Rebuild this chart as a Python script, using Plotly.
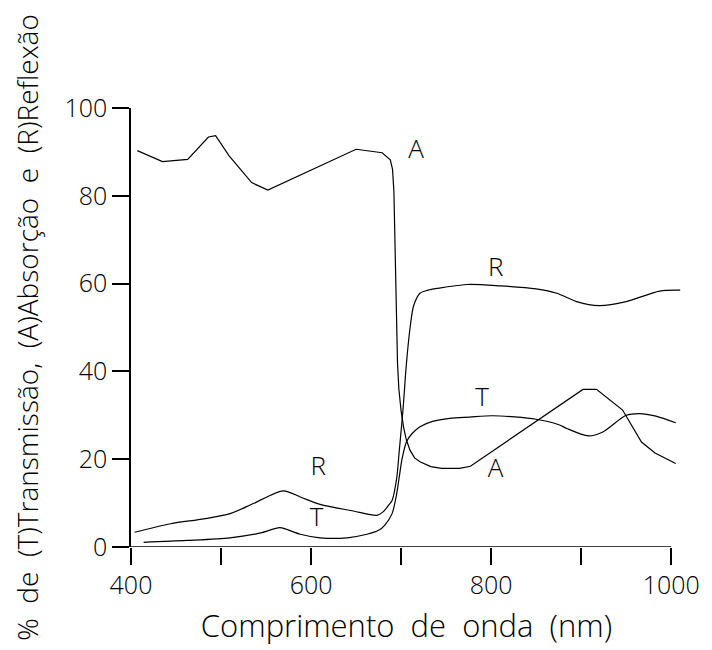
import plotly.graph_objects as go

# Absorption (A)
wl_A = [407, 435, 463, 486, 494, 509, 534, 552, 650, 666, 679, 688, 690.5, 692, 694, 696,
        697.5, 700, 703, 706, 710, 715, 721, 733, 745, 765, 777, 902, 917, 946, 967, 982, 1005]
A = [90.3, 87.8, 88.3, 93.4, 93.7, 89.1, 83.0, 81.3, 90.6, 90.1, 89.8, 88.2, 86.0, 81.0, 62.0, 42.0,
     36.0, 31.0, 27.0, 24.3, 22.0, 20.3, 19.4, 18.3, 17.9, 17.9, 18.4, 35.9, 35.9, 31.2, 23.9, 21.4, 19.0]

# Reflection (R)
wl_R = [404, 444, 481, 510, 536, 569, 588, 610, 647, 673, 680, 686, 690, 695, 698, 702, 706, 710,
        714, 721, 730, 740, 773, 810, 850, 873, 895, 920, 950, 987, 1010]
R = [3.35, 5.3, 6.4, 7.6, 9.9, 12.8, 11.4, 9.7, 8.2, 7.2, 8.0, 9.5, 10.6, 15.5, 22.0, 31.0, 42.0, 50.0,
     55.0, 57.8, 58.5, 58.9, 59.8, 59.5, 58.8, 57.8, 55.9, 55.0, 55.9, 58.3, 58.5]

# Transmission (T)
wl_T = [414, 462, 510, 544, 565, 573, 588, 610, 640, 662, 675, 682, 690, 695, 698, 701, 706, 712,
        721, 735, 754, 776, 802, 850, 876, 884, 908, 924, 950, 965, 983, 1005]
T = [1.07, 1.5, 2.1, 3.2, 4.4, 4.0, 2.9, 2.1, 2.1, 2.9, 3.8, 5.0, 7.6, 12.0, 16.0, 20.0, 24.0, 25.8,
     27.4, 28.6, 29.3, 29.6, 29.9, 29.1, 27.8, 27.0, 25.3, 26.2, 30.0, 30.4, 29.8, 28.3]

# Curve labels
label_text = ["A", "R", "T", "A", "R", "T"]
label_x = [716.5, 805, 790, 805, 608, 606]
label_y = [90.0, 63.1, 33.5, 17.5, 17.9, 6.3]

x_tickvals = [400, 500, 600, 700, 800, 900, 1000]
x_ticktext = ["400", "", "600", "", "800", "", "1000"]
y_tickvals = [0, 20, 40, 60, 80, 100]

FONT = "Open Sans"
INK = "black"

fig = go.Figure()
fig.add_trace(go.Scatter(x=wl_A, y=A, mode="lines", line=dict(color=INK, width=1.2, shape="linear"),
                         showlegend=False, hoverinfo="skip"))
fig.add_trace(go.Scatter(x=wl_R, y=R, mode="lines", line=dict(color=INK, width=1.2, shape="spline", smoothing=0.8),
                         showlegend=False, hoverinfo="skip"))
fig.add_trace(go.Scatter(x=wl_T, y=T, mode="lines", line=dict(color=INK, width=1.2, shape="spline", smoothing=0.8),
                         showlegend=False, hoverinfo="skip"))
fig.add_trace(go.Scatter(x=label_x, y=label_y, mode="text", text=label_text,
                         textfont=dict(family=FONT, size=26, color=INK, weight=300),
                         showlegend=False, hoverinfo="skip"))

# x axis line only spans 400..1000 (curves run slightly beyond)
fig.add_shape(type="line", xref="x", yref="y", x0=400, x1=1000, y0=0, y1=0,
              line=dict(color=INK, width=1.5))

# page body has an 8px default margin, so the figure is 8px smaller than the window
fig.update_layout(
    width=704, height=642,
    margin=dict(l=122.5, r=29.5, t=100, b=103.3),
    paper_bgcolor="white", plot_bgcolor="white",
    font=dict(family=FONT, size=25, color=INK, weight=300),
    xaxis=dict(range=[400, 1012], showline=False, showgrid=False, zeroline=False, automargin=False,
               ticks="outside", ticklen=17, tickwidth=1.5, tickcolor=INK,
               tickvals=x_tickvals, ticktext=x_ticktext, ticklabelstandoff=-1,
               tickfont=dict(family=FONT, size=25, weight=300),
               title=dict(text="Comprimento  de  onda  (nm)", standoff=15,
                          font=dict(family=FONT, size=31, weight=300))),
    yaxis=dict(range=[0, 100], showline=True, linecolor=INK, linewidth=1.5, automargin=False,
               showgrid=False, zeroline=False,
               ticks="outside", ticklen=17, tickwidth=1.5, tickcolor=INK,
               tickvals=y_tickvals, ticklabelstandoff=0,
               tickfont=dict(family=FONT, size=25, weight=300),
               title=dict(text="%  de  (T)Transmissão,  (A)Absorção  e  (R)Reflexão", standoff=19,
                          font=dict(family=FONT, size=28, weight=300))),
)

fig.write_html("out.html")
